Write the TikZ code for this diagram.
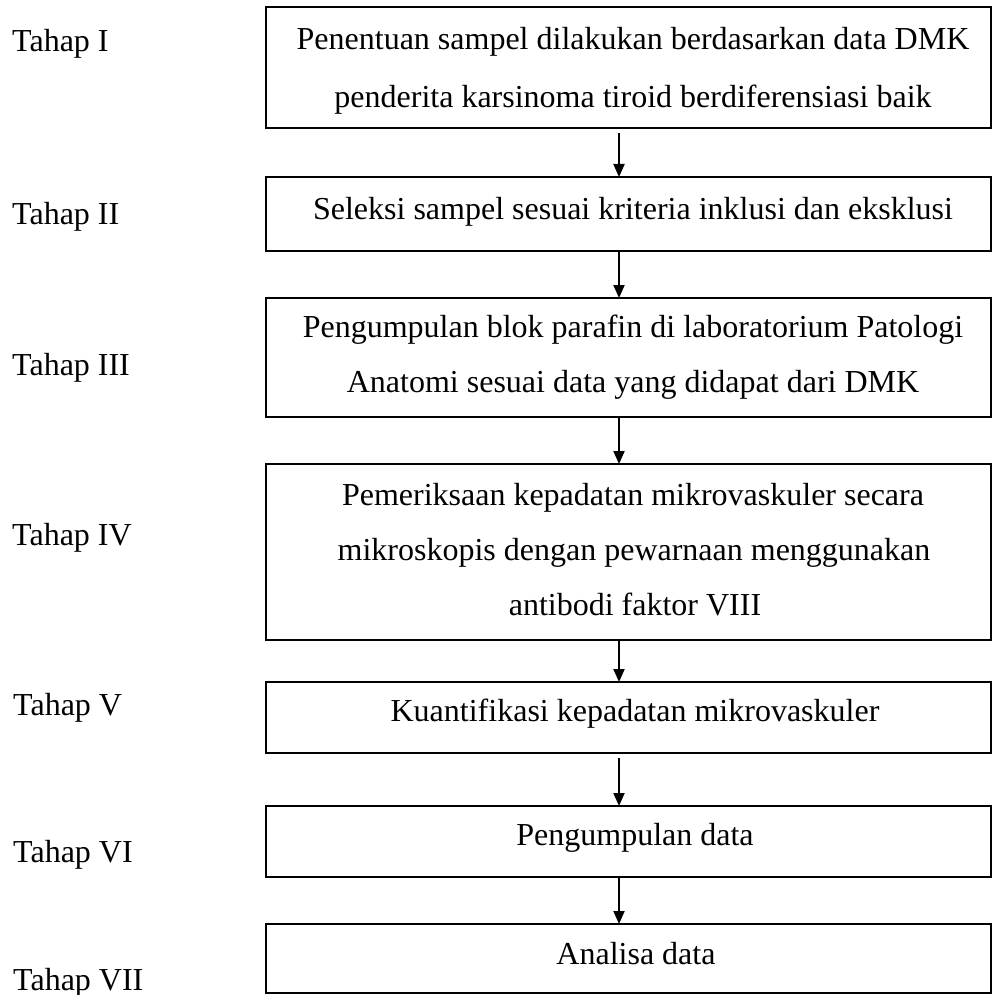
\documentclass[tikz,border=0pt]{standalone}
\usepackage{fontspec}
\setmainfont{Liberation Serif}
\usetikzlibrary{arrows.meta}
\begin{document}
\begin{tikzpicture}[x=1pt,y=-1pt,
  stepbox/.style={draw,line width=2.4pt,minimum width=725pt,inner sep=0pt,outer sep=0pt},
  txt/.style={anchor=base,inner sep=0pt,font=\fontsize{32}{38}\selectfont},
  lbl/.style={anchor=base west,inner sep=0pt,font=\fontsize{32}{38}\selectfont},
  arr/.style={line width=2pt,-{Triangle[length=13pt,width=11pt]}}]
\useasboundingbox (0,0) rectangle (995,995);
\fill[white] (0,0) rectangle (995,995);
% boxes
\node[stepbox,minimum height=121pt] (b1) at (628.5,67.5) {};
\node[stepbox,minimum height=74pt] (b2) at (628.5,214) {};
\node[stepbox,minimum height=119pt] (b3) at (628.5,357.5) {};
\node[stepbox,minimum height=176pt] (b4) at (628.5,552) {};
\node[stepbox,minimum height=71pt] (b5) at (628.5,717.5) {};
\node[stepbox,minimum height=71pt] (b6) at (628.5,841.5) {};
\node[stepbox,minimum height=69pt] (b7) at (628.5,958.5) {};
% box texts
\node[txt] (t1a) at (633,50) {Penentuan sampel dilakukan berdasarkan data DMK};
\node[txt] (t1b) at (633,108) {penderita karsinoma tiroid berdiferensiasi baik};
\node[txt] (t2) at (633,219) {Seleksi sampel sesuai kriteria inklusi dan eksklusi};
\node[txt] (t3a) at (633,337) {Pengumpulan blok parafin di laboratorium Patologi};
\node[txt] (t3b) at (633,392) {Anatomi sesuai data yang didapat dari DMK};
\node[txt] (t4a) at (633,505) {Pemeriksaan kepadatan mikrovaskuler secara};
\node[txt] (t4b) at (634,560) {mikroskopis dengan pewarnaan menggunakan};
\node[txt] (t4c) at (635,615) {antibodi faktor VIII};
\node[txt] (t5) at (635,721) {Kuantifikasi kepadatan mikrovaskuler};
\node[txt] (t6) at (635,845) {Pengumpulan data};
\node[txt] (t7) at (636,964) {Analisa data};
% stage labels
\node[lbl] (l1) at (12,52) {Tahap I};
\node[lbl] (l2) at (12,224) {Tahap II};
\node[lbl] (l3) at (12,375) {Tahap III};
\node[lbl] (l4) at (12,545) {Tahap IV};
\node[lbl] (l5) at (13,715) {Tahap V};
\node[lbl] (l6) at (13,862) {Tahap VI};
\node[lbl] (l7) at (13,990) {Tahap VII};
% arrows
\draw[arr] ([xshift=-9.5pt,yshift=-5pt]b1.south) -- ([xshift=-9.5pt]b2.north);
\draw[arr] ([xshift=-9.5pt]b2.south) -- ([xshift=-9.5pt]b3.north);
\draw[arr] ([xshift=-9.5pt]b3.south) -- ([xshift=-9.5pt]b4.north);
\draw[arr] ([xshift=-9.5pt]b4.south) -- ([xshift=-9.5pt]b5.north);
\draw[arr] ([xshift=-9.5pt,yshift=-5pt]b5.south) -- ([xshift=-9.5pt]b6.north);
\draw[arr] ([xshift=-9.5pt]b6.south) -- ([xshift=-9.5pt]b7.north);
\end{tikzpicture}
\end{document}
